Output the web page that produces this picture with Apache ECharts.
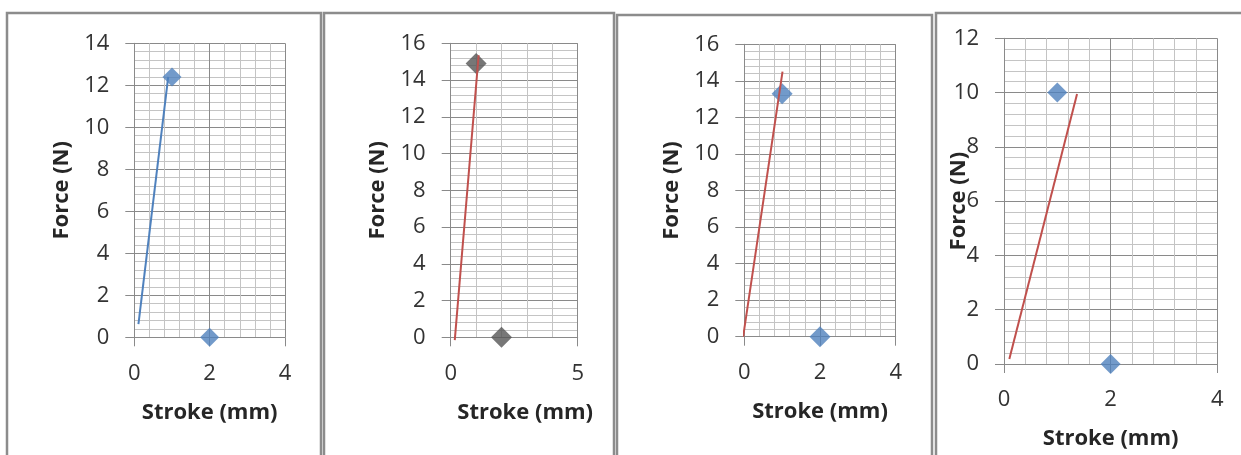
<!DOCTYPE html>
<html>
<head>
<meta charset="utf-8">
<script src="https://cdn.jsdelivr.net/npm/echarts@6/dist/echarts.min.js"></script>
<style>
html,body{margin:0;padding:0;background:#fff;}
#c{width:1241px;height:455px;}
</style>
</head>
<body>
<div id="c"></div>
<script>
// ---- data ----
const xAxisName = 'Stroke (mm)';
const yAxisName = 'Force (N)';
const xMaxs = [4, 5, 4, 4];
const xIntervals = [2, 5, 2, 2];
const yMaxs = [14, 16, 16, 12];
const yInterval = 2;

const p1Points = [[1, 12.4], [2, 0]];
const p1Line = [[0.11, 0.63], [0.9, 12.4]];
const p2Points = [[1, 14.9], [2, 0]];
const p2Line = [[0.16, -0.15], [1.1, 15.35]];
const p3Points = [[1, 13.3], [2, 0]];
const p3Line = [[-0.03, 0], [1.01, 14.5]];
const p4Points = [[1, 10], [2, 0]];
const p4Line = [[0.1, 0.18], [1.37, 9.95]];

const pointSets = [p1Points, p2Points, p3Points, p4Points];
const lineSets = [p1Line, p2Line, p3Line, p4Line];
const pointColors = ['#4F81BD', '#555555', '#4F81BD', '#4F81BD'];
const lineColors = ['#4F81BD', '#C0504D', '#C0504D', '#C0504D'];
const pointSizes = [19, 21, 21, 20];

// ---- layout ----
const grids = [
  {left: 134.3, top: 43.3, width: 150.7, height: 294},
  {left: 450.7, top: 43.3, width: 127, height: 294},
  {left: 744.3, top: 44.3, width: 151.4, height: 292.4},
  {left: 1004, top: 38.3, width: 213.3, height: 330.7}
];
const frames = [
  {x: 7, y: 13, w: 314, h: 470},
  {x: 324, y: 13, w: 290, h: 470},
  {x: 617, y: 15, w: 315, h: 470},
  {x: 936, y: 13, w: 330, h: 470}
];
const yNameGaps = [62, 62, 62, 34];
const xNamePad = [[0,0,0,0], [0,0,0,22], [0,0,0,0], [0,0,0,0]];

const FONT = 'Open Sans';
const major = '#8a8a8a';
const minor = '#c4c4c4';

const xAxes = [], yAxes = [], series = [];
for (let i = 0; i < 4; i++) {
  xAxes.push({
    type: 'value', gridIndex: i, min: 0, max: xMaxs[i], interval: xIntervals[i],
    name: xAxisName, nameLocation: 'middle', nameGap: 64, nameMoveOverlap: false,
    nameTextStyle: {fontFamily: FONT, fontWeight: 'bold', fontSize: 22, color: '#262626', padding: xNamePad[i]},
    axisLine: {show: true, lineStyle: {color: major, width: 1}},
    axisTick: {show: true, length: 9, lineStyle: {color: major}},
    axisLabel: {fontFamily: FONT, fontSize: 22, color: '#333333', margin: 25},
    splitLine: {show: true, lineStyle: {color: major, width: 1}},
    minorTick: {show: false, splitNumber: 5},
    minorSplitLine: {show: true, lineStyle: {color: minor, width: 1}}
  });
  yAxes.push({
    type: 'value', gridIndex: i, min: 0, max: yMaxs[i], interval: yInterval,
    name: yAxisName, nameLocation: 'middle', nameGap: yNameGaps[i], nameMoveOverlap: false,
    nameTextStyle: {fontFamily: FONT, fontWeight: 'bold', fontSize: 22, color: '#262626'},
    axisLine: {show: true, lineStyle: {color: major, width: 1}},
    axisTick: {show: true, length: 9, lineStyle: {color: major}},
    axisLabel: {fontFamily: FONT, fontSize: 22, color: '#333333', margin: 25},
    splitLine: {show: true, lineStyle: {color: major, width: 1}},
    minorTick: {show: false, splitNumber: 5},
    minorSplitLine: {show: true, lineStyle: {color: minor, width: 1}}
  });
  series.push({
    type: 'scatter', xAxisIndex: i, yAxisIndex: i, data: pointSets[i],
    symbol: 'diamond', symbolSize: pointSizes[i],
    itemStyle: {color: pointColors[i]}, z: 3, silent: true
  });
  series.push({
    type: 'line', xAxisIndex: i, yAxisIndex: i, data: lineSets[i],
    showSymbol: false, symbol: 'none', clip: false,
    lineStyle: {color: lineColors[i], width: 2}, z: 4, silent: true
  });
}

const graphic = frames.map(f => ({
  type: 'rect', silent: true, z: -1,
  shape: {x: f.x, y: f.y, width: f.w, height: f.h},
  style: {fill: 'none', stroke: '#8c8c8c', lineWidth: 2.5}
}));

const chart = echarts.init(document.getElementById('c'), null, {renderer: 'canvas'});
chart.setOption({
  animation: false,
  backgroundColor: '#ffffff',
  grid: grids.map(g => Object.assign({containLabel: false}, g)),
  xAxis: xAxes,
  yAxis: yAxes,
  series: series,
  graphic: graphic
});
</script>
</body>
</html>
